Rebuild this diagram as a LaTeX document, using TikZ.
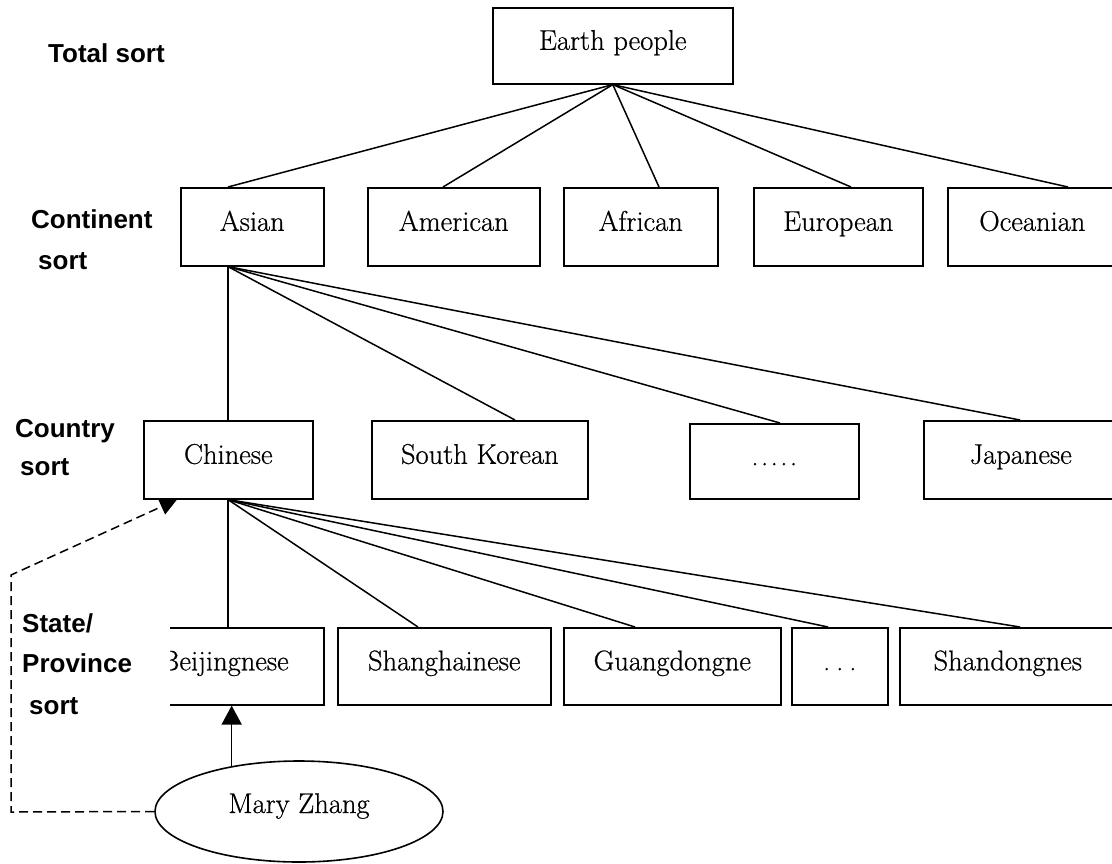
\documentclass[tikz,border=0pt]{standalone}
\usepackage{fontspec}
\newfontfamily\labfont{Liberation Sans}
\newfontfamily\boxfont{Latin Modern Roman}[FakeBold=0.6]
\usetikzlibrary{arrows.meta,shapes.geometric}
\begin{document}
\begin{tikzpicture}[x=1pt,y=-1pt,
  box/.style={draw,line width=1.6pt,inner sep=0pt,anchor=north west,text height=30pt,text depth=22pt,font=\boxfont\fontsize{28.5}{33}\selectfont},
  person/.style={ellipse,draw,line width=1.6pt,inner sep=0pt,text height=22pt,text depth=19pt,font=\boxfont\fontsize{28.5}{33}\selectfont},
  conn/.style={line width=1.5pt},
  dashlink/.style={line width=1.5pt,dash pattern=on 9pt off 5pt},
  lab/.style={anchor=base west,inner sep=0pt,font=\labfont\bfseries\fontsize{26}{30}\selectfont}]
\useasboundingbox (0,0) rectangle (1112,863);
\clip (0,0) rectangle (1112,863);

% labels
\node[lab] (l1) at (48,62) {Total sort};
\node[lab] (l2) at (31,228) {Continent};
\node[lab] (l3) at (38,269) {sort};
\node[lab] (l4) at (15,437) {Country};
\node[lab] (l5) at (20,475) {sort};
\node[lab] (l6) at (22,632) {State/};
\node[lab] (l7) at (22,672) {Province};
\node[lab] (l8) at (29,714) {sort};

% level 1
\node[box,minimum width=240pt,minimum height=76pt] (earth) at (492,7) {Earth people};

% level 2
\begin{scope}
\clip (180,0) rectangle (400,863);
\node[box,minimum width=143pt,minimum height=78pt] (asian) at (180,187) {Asian};
\end{scope}
\node[box,minimum width=172pt,minimum height=78pt] (american) at (367,187) {American};
\node[box,minimum width=154pt,minimum height=78pt] (african) at (563,187) {African};
\node[box,minimum width=169pt,minimum height=78pt] (european) at (753,187) {European};
\node[box,minimum width=169pt,minimum height=78pt] (oceanian) at (947,187) {Oceanian};

% level 3
\node[box,minimum width=169pt,minimum height=78pt] (chinese) at (143,420) {Chinese};
\node[box,minimum width=216pt,minimum height=78pt] (skorean) at (371,420) {South Korean};
\node[box,minimum width=169pt,minimum height=75pt] (dotsc) at (689,423) {.\hspace{2.5pt}.\hspace{2.5pt}.\hspace{2.5pt}.\hspace{2.5pt}.};
\node[box,minimum width=194pt,minimum height=78pt] (japanese) at (923,420) {Japanese};

% level 4
\begin{scope}
\clip (170,0) rectangle (400,863);
\node[box,minimum width=198pt,minimum height=77pt] (beijing) at (125,627) {Beijingnese};
\end{scope}
\node[box,minimum width=213pt,minimum height=77pt] (shanghai) at (337,627) {Shanghainese};
\node[box,minimum width=217pt,minimum height=77pt] (guangdong) at (563,627) {Guangdongne};
\node[box,minimum width=96pt,minimum height=77pt] (dotsp) at (791,627) {.\hspace{6pt}.\hspace{6pt}.};
\node[box,minimum width=216pt,minimum height=77pt] (shandong) at (899,627) {Shandongnes};

% person
\node[person,minimum width=288pt,minimum height=101pt] (mary) at (299,811.5) {Mary Zhang\hspace{20pt}};

% connectors level 1 -> 2
\draw[conn] (earth.south) -- ([xshift=48pt]asian.north west);
\draw[conn] (earth.south) -- ([xshift=76pt]american.north west);
\draw[conn] (earth.south) -- ([xshift=96pt]african.north west);
\draw[conn] (earth.south) -- ([xshift=98pt]european.north west);
\draw[conn] (earth.south) -- ([xshift=121pt]oceanian.north west);

% level 2 -> 3
\draw[conn] ([xshift=48pt]asian.south west) -- ([xshift=85pt]chinese.north west);
\draw[conn] ([xshift=48pt]asian.south west) -- ([xshift=144pt]skorean.north west);
\draw[conn] ([xshift=48pt]asian.south west) -- ([xshift=91pt]dotsc.north west);
\draw[conn] ([xshift=48pt]asian.south west) -- ([xshift=97pt]japanese.north west);

% level 3 -> 4
\draw[conn] ([xshift=85pt]chinese.south west) -- ([xshift=103pt]beijing.north west);
\draw[conn] ([xshift=85pt]chinese.south west) -- ([xshift=81pt]shanghai.north west);
\draw[conn] ([xshift=85pt]chinese.south west) -- ([xshift=72pt]guangdong.north west);
\draw[conn] ([xshift=85pt]chinese.south west) -- ([xshift=37pt]dotsp.north west);
\draw[conn] ([xshift=85pt]chinese.south west) -- ([xshift=121pt]shandong.north west);

% instance links
\draw[conn,-{Triangle[length=19pt,width=20pt]}] (mary.146.8) -- (mary.146.8 |- beijing.south);
\coordinate (dl) at (11,812);
\coordinate (dt) at (11,575);
\draw[dashlink,-{Triangle[length=17pt,width=17pt]}] (mary.west) -- (dl) -- (dt) -- ([xshift=34pt]chinese.south west);
\end{tikzpicture}
\end{document}
